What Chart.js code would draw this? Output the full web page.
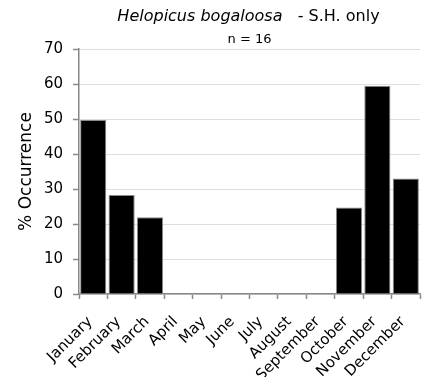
<!DOCTYPE html>
<html>
<head>
<meta charset="utf-8">
<script src="https://cdn.jsdelivr.net/npm/chart.js@4.4.1/dist/chart.umd.min.js"></script>
<style>
html,body{margin:0;padding:0;background:#fff;}
#wrap{position:relative;width:425px;height:377px;}
#title{position:absolute;left:0;width:425px;top:6px;text-align:center;font-family:"DejaVu Sans",Verdana,sans-serif;font-size:16px;color:#000;padding-left:72px;box-sizing:border-box;white-space:pre;}
#sub{position:absolute;left:0;width:425px;top:31px;text-align:center;font-family:"DejaVu Sans",Verdana,sans-serif;font-size:13px;color:#000;padding-left:74px;box-sizing:border-box;}
canvas{position:absolute;left:0;top:0;}
</style>
</head>
<body>
<div id="wrap">
<canvas id="c" width="425" height="377"></canvas>
<div id="title"><i>Helopicus bogaloosa</i>   - S.H. only</div>
<div id="sub">n = 16</div>
</div>
<script>
const months = ["January","February","March","April","May","June","July","August","September","October","November","December"];
const occurrence = [49.7, 28.3, 21.9, 0, 0, 0, 0, 0, 0, 24.7, 59.5, 33.0];
const yTicks = [0,10,20,30,40,50,60,70];
const yTitle = "% Occurrence";

const FONT = '"DejaVu Sans", Verdana, sans-serif';
new Chart(document.getElementById('c'), {
  type: 'bar',
  data: {
    labels: months,
    datasets: [{
      data: occurrence,
      backgroundColor: '#000000',
      borderColor: '#8a8a8a',
      borderWidth: 1,
      barPercentage: 0.92,
      categoryPercentage: 1.0
    }]
  },
  options: {
    responsive: false,
    animation: false,
    devicePixelRatio: 1,
    layout: { padding: { top: 49, right: 5, left: 0, bottom: 0 } },
    plugins: { legend: { display: false }, tooltip: { enabled: false }, title: { display: false } },
    scales: {
      x: {
        grid: { offset: true, drawOnChartArea: false, drawTicks: true, tickLength: 5, tickColor: '#888', tickWidth: 1.5 },
        border: { color: '#888', width: 1.5 },
        ticks: { color: '#000', font: { family: FONT, size: 15 }, maxRotation: 45, minRotation: 45, autoSkip: false, padding: 14, labelOffset: -3 },
        afterFit: (s) => { s.height = 83; s.paddingRight = 0; s.paddingLeft = 0; }
      },
      y: {
        min: 0, max: 70,
        afterBuildTicks: (s) => { s.ticks = yTicks.map(v => ({ value: v })); },
        grid: { color: '#bdbdbd', drawTicks: true, tickLength: 6, tickColor: '#888', tickBorderDash: [], tickWidth: 1.5 },
        border: { color: '#888', width: 1.5, dash: [1, 1] },
        ticks: { color: '#000', font: { family: FONT, size: 15 }, padding: 10 },
        title: { display: true, text: yTitle, color: '#000', font: { family: FONT, size: 17 }, padding: { top: 16, bottom: 0 } },
        afterFit: (s) => { s.width = 79; }
      }
    }
  }
});
</script>
</body>
</html>
